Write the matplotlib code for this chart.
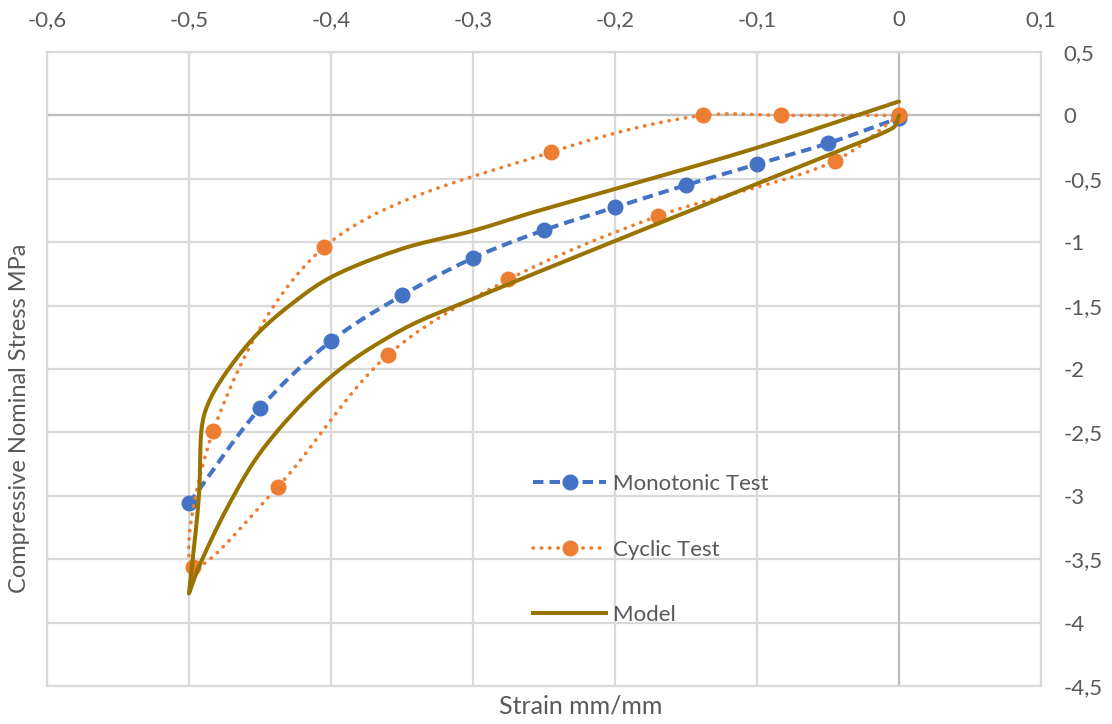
import numpy as np
import matplotlib
matplotlib.use("Agg")
import matplotlib.pyplot as plt
from matplotlib.ticker import FuncFormatter, MultipleLocator

# Monotonic compression test
mono_strain = [-0.5, -0.45, -0.4, -0.35, -0.3, -0.25, -0.2, -0.15, -0.1, -0.05, 0.0]
mono_stress = [-3.06, -2.31, -1.78, -1.42, -1.125, -0.905, -0.725, -0.55, -0.385, -0.22, -0.02]

# Cyclic test: loading branch then unloading branch
cyc_strain = [0.0, -0.045, -0.170, -0.275, -0.360, -0.4375, -0.497, -0.483, -0.405, -0.245, -0.138, -0.083, 0.0]
cyc_stress = [0.0, -0.357, -0.795, -1.294, -1.89, -2.93, -3.56, -2.49, -1.04, -0.29, 0.0, 0.0, 0.0]

# Model response: upper branch down to the peak, then the lower branch back
model_upper_strain = [0.0, -0.1, -0.2, -0.2535, -0.3, -0.35, -0.4, -0.4258, -0.4529,
                      -0.4776, -0.4875, -0.491, -0.493, -0.5]
model_upper_stress = [0.11, -0.255, -0.58, -0.75, -0.91, -1.052, -1.276, -1.47, -1.735,
                      -2.09, -2.30, -2.46, -3.0, -3.77]
model_lower_strain = [-0.5, -0.493, -0.470, -0.4465, -0.4, -0.35, -0.3, -0.2,
                      -0.1, -0.047, -0.0094, -0.003, 0.0]
model_lower_stress = [-3.77, -3.56, -3.03, -2.61, -2.06, -1.69, -1.447, -0.99,
                      -0.54, -0.30, -0.128, -0.085, 0.0]

BLUE = "#4472C4"
ORANGE = "#ED7D31"
GOLD = "#997300"
TEXT = "#595959"
GRID = "#D9D9D9"
AXIS = "#BFBFBF"

# relative screen scale of one strain unit vs one stress unit
SX, SY = 1419.0, 126.8


def smooth(xs, ys, steps=30, alpha=0.5):
    """Centripetal Catmull-Rom spline through the points (smoothed line style)."""
    p = np.column_stack([np.asarray(xs) * SX, np.asarray(ys) * SY]).astype(float)
    first = 2 * p[0] - p[1]
    last = 2 * p[-1] - p[-2]
    p = np.vstack([first, p, last])
    out = []
    for i in range(1, len(p) - 2):
        p0, p1, p2, p3 = p[i - 1], p[i], p[i + 1], p[i + 2]
        def tj(ti, a, b):
            return ti + max(np.linalg.norm(b - a), 1e-6) ** alpha
        t0 = 0.0
        t1 = tj(t0, p0, p1)
        t2 = tj(t1, p1, p2)
        t3 = tj(t2, p2, p3)
        t = np.linspace(t1, t2, steps, endpoint=False)[:, None]
        a1 = (t1 - t) / (t1 - t0) * p0 + (t - t0) / (t1 - t0) * p1
        a2 = (t2 - t) / (t2 - t1) * p1 + (t - t1) / (t2 - t1) * p2
        a3 = (t3 - t) / (t3 - t2) * p2 + (t - t2) / (t3 - t2) * p3
        b1 = (t2 - t) / (t2 - t0) * a1 + (t - t0) / (t2 - t0) * a2
        b2 = (t3 - t) / (t3 - t1) * a2 + (t - t1) / (t3 - t1) * a3
        c = (t2 - t) / (t2 - t1) * b1 + (t - t1) / (t2 - t1) * b2
        out.append(c)
    out.append(p[-2][None, :])
    out = np.vstack(out)
    return out[:, 0] / SX, out[:, 1] / SY


plt.rcParams["font.family"] = ["Lato", "DejaVu Sans"]

fig = plt.figure(figsize=(11.12, 7.24), dpi=100)
ax = fig.add_axes([47 / 1112, 1 - 686 / 724, (1041 - 47) / 1112, (686 - 52) / 724])

ax.set_xlim(-0.6, 0.1)
ax.set_ylim(-4.5, 0.5)
ax.xaxis.set_major_locator(MultipleLocator(0.1))
ax.yaxis.set_major_locator(MultipleLocator(0.5))


def comma(v, _pos):
    v = round(v, 3)
    if abs(v) < 1e-9:
        return "0"
    return f"{v:g}".replace(".", ",")


ax.xaxis.set_major_formatter(FuncFormatter(comma))
ax.yaxis.set_major_formatter(FuncFormatter(comma))
ax.xaxis.tick_top()
ax.yaxis.tick_right()
ax.tick_params(axis="both", length=0, labelsize=16, labelcolor=TEXT)
ax.tick_params(axis="x", pad=16)
ax.tick_params(axis="y", pad=16)

ax.grid(True, color=GRID, lw=1.6, zorder=0)
for s in ax.spines.values():
    s.set_color(GRID)
    s.set_linewidth(1.6)
ax.axvline(0, color=AXIS, lw=1.6, zorder=1)
ax.axhline(0, color=AXIS, lw=1.6, zorder=1)
ax.set_axisbelow(True)

MONO_LS = (0, (2.6, 1.5))
CYC_LS = (0, (0.1, 2.2))

# Monotonic test
mx, my = smooth(mono_strain, mono_stress)
ax.plot(mx, my, color=BLUE, lw=2.9, linestyle=MONO_LS, zorder=3)
ax.plot(mono_strain, mono_stress, linestyle="none", marker="o", ms=10.5, color=BLUE,
        zorder=4)

# Cyclic test
cx, cy = smooth(cyc_strain, cyc_stress)
ax.plot(cx, cy, color=ORANGE, lw=2.6, linestyle=CYC_LS, dash_capstyle="round", zorder=5)
ax.plot(cyc_strain, cyc_stress, linestyle="none", marker="o", ms=10.5, color=ORANGE,
        mec=ORANGE, zorder=6)

# Model curve (two branches joined at the peak)
ux, uy = smooth(model_upper_strain, model_upper_stress)
lx, ly = smooth(model_lower_strain, model_lower_stress)
ax.plot(np.concatenate([ux, lx]), np.concatenate([uy, ly]), color=GOLD, lw=2.9,
        solid_joinstyle="round", solid_capstyle="round", zorder=7)

# Legend proxies combining line and marker
h_mono, = ax.plot([], [], color=BLUE, lw=2.9, linestyle=MONO_LS, marker="o", ms=10.5)
h_cyc, = ax.plot([], [], color=ORANGE, lw=2.6, linestyle=CYC_LS,
                 dash_capstyle="round", marker="o", ms=10.5)
h_mod, = ax.plot([], [], color=GOLD, lw=2.9)
leg = ax.legend([h_mono, h_cyc, h_mod], ["Monotonic Test", "Cyclic Test", "Model"],
                loc="upper left", bbox_to_anchor=((533 - 47) / 994, 1 - (474 - 52) / 634),
                frameon=False, fontsize=16, handlelength=3.3, handletextpad=0.3,
                labelspacing=2.05, borderpad=0, borderaxespad=0)
for t in leg.get_texts():
    t.set_color(TEXT)

fig.text(581 / 1112, 1 - 706 / 724, "Strain mm/mm", ha="center", va="center",
         fontsize=18, color=TEXT)
fig.text(20 / 1112, 1 - 418 / 724, "Compressive Nominal Stress MPa", ha="center",
         va="center", rotation=90, fontsize=17, color=TEXT)

fig.savefig("out.png", dpi=100)
